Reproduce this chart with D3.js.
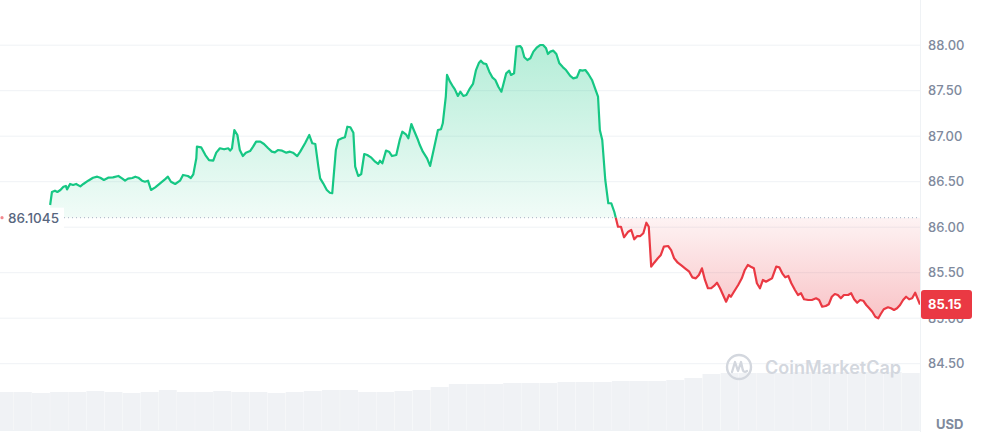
<!DOCTYPE html>
<html>
<head>
<meta charset="utf-8">
<script src="https://cdnjs.cloudflare.com/ajax/libs/d3/7.8.5/d3.min.js"></script>
<style>
    html, body { margin: 0; padding: 0; background: #fff; }
    .chart { width: 981px; height: 432px; }
    text { font-family: Inter, "Noto Sans", sans-serif; }
</style>
</head>
<body>
<div class="chart"></div>
<script>
// price samples: minutes since window start, price in USD
const minutes = [0,3,8,12,17,22,26,28,33,38,43,50,55,63,71,78,83,89,96,104,113,119,124,129,136,141,146,152,157,162,167,174,182,190,195,200,207,215,220,228,233,237,242,243,250,257,263,270,275,281,288,295,
    298,301,305,310,314,319,324,331,336,341,348,354,361,367,372,377,384,391,397,402,409,414,422,429,434,439,444,447,452,458,463,467,470,473,477,483,488,492,497,502,505,510,515,520,525,531,538,543,546,550,556,561,566,573,579,583,589,593,598,602,609,
    612,617,624,629,636,642,647,650,655,657,662,667,670,675,679,684,689,695,700,705,710,713,717,722,727,732,737,742,747,750,755,760,763,768,772,778,781,785,790,795,800,806,811,816,821,824,828,833,838,843,849,854,861,866,872,877,881,886,891,897,
    904,907,910,914,919,924,929,934,937,940,945,950,957,962,967,972,977,982,987,991,995,1000,1006,1011,1016,1023,1028,1033,1039,1046,1051,1058,1063,1069,1074,1079,1084,1089,1094,1099,1104,1109,1114,1119,1124,1127,1132,1139,1145,1150,
    1155,1160,1165,1170,1175,1180,1185,1190,1195,1202,1207,1212,1217,1222,1227,1233,1238,1243,1248,1255,1261,1268,1273,1278,1284,1289,1294,1299,1304,1309,1314,1321,1326,1331,1336,1341,1346,1351,1356,1361,1366,1371,1375,1380,1387,1392,1397,1402,1407,1412,1417,1422,1427,1432,1437,1440];

const prices = [86.244,86.387,86.401,86.387,86.409,86.445,86.453,86.416,86.475,86.464,86.475,86.449,86.475,86.511,86.544,86.555,86.544,86.519,86.544,86.548,86.563,86.537,86.511,86.533,86.541,86.555,86.544,86.511,86.500,86.511,86.409,86.438,86.482,86.526,86.555,86.500,86.475,86.511,86.574,86.563,86.541,86.581,86.757,86.885,86.878,86.793,86.738,86.731,86.819,86.867,86.856,86.867,
    86.841,86.867,87.068,87.013,86.848,86.782,86.819,86.837,86.885,86.940,86.940,86.914,86.867,86.830,86.823,86.848,86.841,86.819,86.830,86.819,86.782,86.830,86.922,87.013,86.922,86.914,86.665,86.537,86.482,86.409,86.379,86.373,86.610,86.848,86.958,86.977,86.988,87.104,87.098,87.038,86.665,86.563,86.585,86.804,86.793,86.768,86.720,86.695,86.731,86.702,86.841,86.830,86.782,86.793,86.966,87.049,87.021,86.977,87.134,87.068,86.958,
    86.903,86.830,86.757,86.673,86.885,87.068,87.076,87.142,87.434,87.673,87.599,87.544,87.515,87.442,87.489,87.442,87.453,87.526,87.574,87.727,87.808,87.830,87.801,87.793,87.709,87.647,87.618,87.544,87.489,87.563,87.691,87.720,87.673,87.691,87.984,87.991,87.966,87.867,87.837,87.856,87.929,87.977,88.002,88.002,87.966,87.903,87.929,87.940,87.903,87.801,87.757,87.727,87.662,87.636,87.647,87.727,87.720,87.727,87.684,87.618,
    87.489,87.434,87.068,86.958,86.519,86.263,86.263,86.167,86.087,86.005,86.005,85.889,85.951,85.969,85.867,85.903,85.903,85.933,86.049,86.005,85.566,85.610,85.658,85.695,85.786,85.793,85.749,85.658,85.610,85.574,85.548,85.511,85.449,85.438,85.475,85.548,85.420,85.329,85.329,85.354,85.390,85.329,85.255,85.181,85.255,85.236,85.291,85.365,85.438,85.530,
    85.585,85.566,85.548,85.384,85.329,85.420,85.401,85.420,85.438,85.566,85.559,85.493,85.449,85.464,85.384,85.310,85.255,85.274,85.208,85.200,85.200,85.219,85.200,85.126,85.134,85.153,85.236,85.266,85.255,85.219,85.255,85.255,85.274,85.208,85.170,85.200,85.192,85.145,85.109,85.071,85.016,84.999,85.046,85.098,85.120,85.109,85.090,85.109,85.145,85.200,85.236,85.208,85.219,85.280,85.200,85.150];

// volume buckets (start minute) and relative volume
const volumeTimes = [-90,-60,-30,0,30,60,90,120,150,180,210,240,270,300,330,360,390,420,450,480,510,540,570,600,630,660,690,720,750,780,810,840,870,900,930,960,990,1020,1050,1080,1110,1140,1170,1200,1230,1260,1290,1320,1350,1380,1410];
const volumes = [38,38,37,38,38,39,38,37,38,40,38,38,39,38,38,37,38,39,40,40,38,38,39,40,43,46,46,46,47,47,47,48,48,48,49,49,49,50,52,56,57,57,57,57,58,58,58,58,58,58,57];

const yTicks = [84.5, 85, 85.5, 86, 86.5, 87, 87.5, 88];
const openPrice = 86.1045;
const lastPrice = 85.15;

class PriceChart {
    constructor(parent) {
        this.width = 981;
        this.height = 432;
        this.plotRight = 920;
        this.data = minutes.map((t, i) => ({ t: t, p: prices[i] }));

        this.svg = d3.select(parent).append("svg")
            .attr("width", this.width)
            .attr("height", this.height);

        this.initVis();
    }

    initVis() {
        let vis = this;

        vis.x = d3.scaleLinear().domain([-83, 1440]).range([0, vis.plotRight]);
        vis.y = d3.scaleLinear().domain([84.5, 88]).range([363.7, 45.2]);
        vis.yVol = d3.scaleLinear().domain([0, 100]).range([430, 330]);

        const defs = vis.svg.append("defs");
        const baseY = vis.y(openPrice);

        defs.append("clipPath").attr("id", "plot-clip")
            .append("rect").attr("x", 0).attr("y", 0).attr("width", vis.plotRight).attr("height", vis.height);
        defs.append("clipPath").attr("id", "above-clip")
            .append("rect").attr("x", 0).attr("y", 0).attr("width", vis.plotRight).attr("height", baseY);
        defs.append("clipPath").attr("id", "below-clip")
            .append("rect").attr("x", 0).attr("y", baseY).attr("width", vis.plotRight).attr("height", vis.height - baseY);

        const green = defs.append("linearGradient").attr("id", "green-fill")
            .attr("gradientUnits", "userSpaceOnUse")
            .attr("x1", 0).attr("x2", 0).attr("y1", vis.y(88)).attr("y2", baseY);
        green.append("stop").attr("offset", "0%").attr("stop-color", "#16c784").attr("stop-opacity", 0.32);
        green.append("stop").attr("offset", "100%").attr("stop-color", "#16c784").attr("stop-opacity", 0.06);

        const red = defs.append("linearGradient").attr("id", "red-fill")
            .attr("gradientUnits", "userSpaceOnUse")
            .attr("x1", 0).attr("x2", 0).attr("y1", baseY).attr("y2", vis.y(85));
        red.append("stop").attr("offset", "0%").attr("stop-color", "#ea3943").attr("stop-opacity", 0.06);
        red.append("stop").attr("offset", "100%").attr("stop-color", "#ea3943").attr("stop-opacity", 0.3);

        // grid lines
        vis.svg.append("g").selectAll("line")
            .data(yTicks)
            .join("line")
            .attr("x1", 0).attr("x2", vis.plotRight)
            .attr("y1", d => vis.y(d)).attr("y2", d => vis.y(d))
            .attr("stroke", "#eff2f5").attr("stroke-width", 1);

        vis.svg.append("line")
            .attr("x1", 0).attr("x2", vis.plotRight).attr("y1", 430.5).attr("y2", 430.5)
            .attr("stroke", "#eff2f5");

        // volume bars
        const barW = vis.x(30) - vis.x(0);
        vis.svg.append("g").attr("clip-path", "url(#plot-clip)")
            .selectAll("rect")
            .data(volumeTimes.map((t, i) => ({ t: t, v: volumes[i] })))
            .join("rect")
            .attr("x", d => vis.x(d.t))
            .attr("width", barW - 0.25)
            .attr("y", d => vis.yVol(d.v))
            .attr("height", d => vis.yVol(0) - vis.yVol(d.v))
            .attr("fill", "#f0f2f5");

        // watermark
        const wm = vis.svg.append("g").attr("transform", "translate(739,367)");
        wm.append("circle").attr("r", 12).attr("fill", "none").attr("stroke", "#d3d7de").attr("stroke-width", 2.4);
        wm.append("path")
            .attr("d", "M-7,5 L-4,-5 L-1,4 L2,-5 L3.8,3 Q5,6 8,4")
            .attr("fill", "none").attr("stroke", "#d3d7de").attr("stroke-width", 2.3)
            .attr("stroke-linejoin", "round").attr("stroke-linecap", "round");
        vis.svg.append("text")
            .attr("x", 765).attr("y", 369)
            .attr("dominant-baseline", "middle")
            .attr("font-size", 18).attr("font-weight", 600)
            .attr("fill", "#d3d7de")
            .text("CoinMarketCap");

        // area + line, split at the opening price
        const area = d3.area().x(d => vis.x(d.t)).y0(baseY).y1(d => vis.y(d.p));
        const line = d3.line().x(d => vis.x(d.t)).y(d => vis.y(d.p));

        vis.svg.append("path").datum(vis.data)
            .attr("clip-path", "url(#above-clip)")
            .attr("d", area).attr("fill", "url(#green-fill)");
        vis.svg.append("path").datum(vis.data)
            .attr("clip-path", "url(#below-clip)")
            .attr("d", area).attr("fill", "url(#red-fill)");

        // opening price dotted line
        vis.svg.append("line")
            .attr("x1", 64).attr("x2", vis.plotRight)
            .attr("y1", baseY).attr("y2", baseY)
            .attr("stroke", "#a6b0c3").attr("stroke-width", 1)
            .attr("stroke-dasharray", "1,3");

        vis.svg.append("path").datum(vis.data)
            .attr("clip-path", "url(#above-clip)")
            .attr("d", line).attr("fill", "none")
            .attr("stroke", "#16c784").attr("stroke-width", 2.2).attr("stroke-linejoin", "round");
        vis.svg.append("path").datum(vis.data)
            .attr("clip-path", "url(#below-clip)")
            .attr("d", line).attr("fill", "none")
            .attr("stroke", "#ea3943").attr("stroke-width", 2.2).attr("stroke-linejoin", "round");

        // left label for the opening price
        vis.svg.append("rect").attr("x", 0).attr("y", baseY - 10).attr("width", 64).attr("height", 21).attr("fill", "#fff");
        vis.svg.append("circle").attr("cx", 2).attr("cy", baseY).attr("r", 1.6).attr("fill", "#ea3943").attr("opacity", 0.6);
        vis.svg.append("text")
            .attr("x", 8).attr("y", baseY + 1)
            .attr("dy", "0.35em")
            .attr("font-size", 13.5).attr("font-weight", 500)
            .attr("fill", "#58667e")
            .text(d3.format(".4f")(openPrice));

        // right axis
        vis.svg.append("line")
            .attr("x1", vis.plotRight + 0.5).attr("x2", vis.plotRight + 0.5)
            .attr("y1", 0).attr("y2", vis.height)
            .attr("stroke", "#eff2f5");

        const axis = vis.svg.append("g")
            .attr("transform", `translate(${vis.plotRight + 1},0)`)
            .call(d3.axisRight(vis.y).tickValues(yTicks).tickFormat(d3.format(".2f")).tickSize(0).tickPadding(7));
        axis.select(".domain").remove();
        axis.selectAll("text")
            .attr("font-family", "Inter, sans-serif")
            .attr("font-size", 13).attr("font-weight", 500)
            .attr("fill", "#808a9d");

        // current price tag (covers the 85.00 tick label, as in the source)
        const tagY = vis.y(lastPrice);
        vis.svg.append("rect")
            .attr("x", vis.plotRight + 1).attr("y", tagY - 14.5)
            .attr("width", 51).attr("height", 29).attr("rx", 3)
            .attr("fill", "#ea3943");
        vis.svg.append("text")
            .attr("x", 928).attr("y", tagY)
            .attr("dy", "0.35em")
            .attr("font-size", 13).attr("font-weight", 700)
            .attr("fill", "#fff")
            .text(d3.format(".2f")(lastPrice));

        vis.svg.append("text")
            .attr("x", 936).attr("y", 424)
            .attr("dy", "0.35em")
            .attr("font-size", 13).attr("font-weight", 700)
            .attr("fill", "#808a9d")
            .text("USD");
    }
}

new PriceChart(".chart");
</script>
</body>
</html>
